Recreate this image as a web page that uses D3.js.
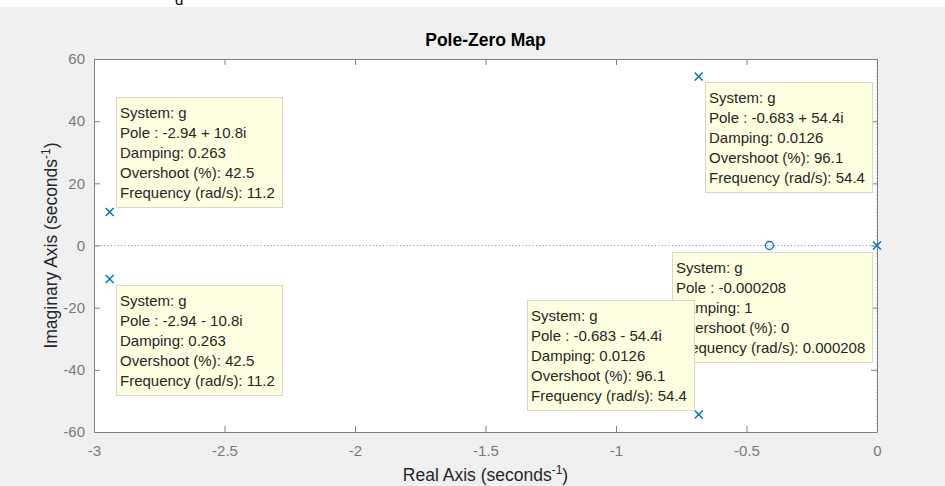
<!DOCTYPE html>
<html lang="en">
<head>
<meta charset="UTF-8">
<title>Pole-Zero Map</title>
<script src="https://d3js.org/d3.v7.min.js"></script>
<style>
    body { margin: 0; background: #f0f0f0; }
    svg { display: block; font-family: "Liberation Sans", Arial, sans-serif; }
    .axis path, .axis line { stroke: #808080; }
    .axis text { fill: #7a7a7a; font-size: 15px; font-family: "Liberation Sans", Arial, sans-serif; }
    .tip rect { fill: #ffffe1; stroke: #d6d6cc; }
    .tip text { fill: #262626; font-size: 15px; }
</style>
</head>
<body>
<script>
// poles and zeros of g
var poleRe = [-2.94, -2.94, -0.683, -0.683, -0.000208];
var poleIm = [10.8, -10.8, 54.4, -54.4, 0];
var zeroRe = [-0.412];
var zeroIm = [0];

// data tip contents for each pole
var tipPole = ["-2.94 + 10.8i", "-2.94 - 10.8i", "-0.683 + 54.4i", "-0.683 - 54.4i", "-0.000208"];
var tipDamping = ["0.263", "0.263", "0.0126", "0.0126", "1"];
var tipOvershoot = ["42.5", "42.5", "96.1", "96.1", "0"];
var tipFreq = ["11.2", "11.2", "54.4", "54.4", "0.000208"];
// which side of the marker each tip sits on
var tipSide = ["ne", "se", "se", "nw", "sw"];
var tipOrder = [0, 1, 2, 4, 3];

var xTicks = [-3, -2.5, -2, -1.5, -1, -0.5, 0];
var yTicks = [-60, -40, -20, 0, 20, 40, 60];

var width = 945, height = 486;
var pLeft = 94, pRight = 877, pTop = 59, pBottom = 432;
var blue = "#0072bd";
var fmt = function(d) { return String(d); };

var svg = d3.select("body").append("svg")
    .attr("width", width)
    .attr("height", height);

svg.append("rect").attr("width", width).attr("height", height).attr("fill", "#f0f0f0");
// strip of the page above the figure
svg.append("rect").attr("width", width).attr("height", 7).attr("fill", "#fff");
svg.append("text").attr("x", 175).attr("y", 5).attr("font-size", 15).attr("fill", "#000").text("d");

var x = d3.scaleLinear().domain([-3, 0]).range([pLeft, pRight]);
var y = d3.scaleLinear().domain([-60, 60]).range([pBottom, pTop]);

svg.append("rect")
    .attr("x", pLeft).attr("y", pTop)
    .attr("width", pRight - pLeft).attr("height", pBottom - pTop)
    .attr("fill", "#fff");

// zero lines
svg.append("line")
    .attr("x1", pLeft).attr("x2", pRight)
    .attr("y1", y(0)).attr("y2", y(0))
    .attr("stroke", "#8c8c8c").attr("stroke-dasharray", "1,2.4");
svg.append("line")
    .attr("x1", x(0)).attr("x2", x(0))
    .attr("y1", pTop).attr("y2", pBottom)
    .attr("stroke", "#8c8c8c").attr("stroke-dasharray", "1,2.4");

svg.append("g").attr("class", "axis")
    .attr("transform", "translate(0," + pBottom + ")")
    .call(d3.axisBottom(x).tickValues(xTicks).tickSize(-6).tickSizeOuter(0).tickPadding(13).tickFormat(fmt));
svg.append("g").attr("class", "axis")
    .attr("transform", "translate(0," + pTop + ")")
    .call(d3.axisTop(x).tickValues(xTicks).tickSize(-6).tickSizeOuter(0).tickFormat(""));
svg.append("g").attr("class", "axis")
    .attr("transform", "translate(" + pLeft + ",0)")
    .call(d3.axisLeft(y).tickValues(yTicks).tickSize(-6).tickSizeOuter(0).tickPadding(9).tickFormat(fmt));
svg.append("g").attr("class", "axis")
    .attr("transform", "translate(" + pRight + ",0)")
    .call(d3.axisRight(y).tickValues(yTicks).tickSize(-6).tickSizeOuter(0).tickFormat(""));
svg.selectAll(".axis text").style("font-size", "15px").style("font-family", "'Liberation Sans', Arial, sans-serif");

// title and axis labels
svg.append("text")
    .attr("x", (pLeft + pRight) / 2).attr("y", 46)
    .attr("text-anchor", "middle")
    .attr("font-size", 17.5).attr("font-weight", "bold").attr("fill", "#000")
    .text("Pole-Zero Map");

var xl = svg.append("text")
    .attr("x", (pLeft + pRight) / 2).attr("y", 481)
    .attr("text-anchor", "middle")
    .attr("font-size", 17.5).attr("fill", "#262626");
xl.append("tspan").text("Real Axis (seconds");
xl.append("tspan").attr("font-size", 12).attr("dy", -7).text("-1");
xl.append("tspan").attr("dy", 7).text(")");

var yl = svg.append("text")
    .attr("transform", "translate(57," + (pTop + pBottom) / 2 + ") rotate(-90)")
    .attr("text-anchor", "middle")
    .attr("font-size", 17.5).attr("fill", "#262626");
yl.append("tspan").text("Imaginary Axis (seconds");
yl.append("tspan").attr("font-size", 12).attr("dy", -7).text("-1");
yl.append("tspan").attr("dy", 7).text(")");

// markers
var s = 4;
svg.append("g").selectAll("path.pole")
    .data(poleRe.map(function(d, i) { return [d, poleIm[i]]; }))
    .enter().append("path")
    .attr("d", function(d) {
        var px = x(d[0]), py = y(d[1]);
        return "M" + (px - s) + "," + (py - s) + "L" + (px + s) + "," + (py + s) +
               "M" + (px - s) + "," + (py + s) + "L" + (px + s) + "," + (py - s);
    })
    .attr("stroke", blue).attr("stroke-width", 1.5).attr("fill", "none");

svg.append("g").selectAll("circle")
    .data(zeroRe.map(function(d, i) { return [d, zeroIm[i]]; }))
    .enter().append("circle")
    .attr("cx", function(d) { return x(d[0]); })
    .attr("cy", function(d) { return y(d[1]); })
    .attr("r", 4)
    .attr("stroke", blue).attr("stroke-width", 1.3).attr("fill", "none");

// data tips
var lineH = 20, boxH = 110;
tipOrder.forEach(function(i) {
    var lines = [
        "System: g",
        "Pole : " + tipPole[i],
        "Damping: " + tipDamping[i],
        "Overshoot (%): " + tipOvershoot[i],
        "Frequency (rad/s): " + tipFreq[i]
    ];
    var g = svg.append("g").attr("class", "tip");
    var rect = g.append("rect");
    var txt = g.selectAll("text").data(lines).enter().append("text")
        .attr("x", 4)
        .attr("y", function(d, k) { return 21 + k * lineH; })
        .text(function(d) { return d; });
    var w = 0;
    txt.each(function() { w = Math.max(w, this.getComputedTextLength()); });
    var boxW = Math.round(w + 11);
    rect.attr("x", 0.5).attr("y", 0.5).attr("width", boxW).attr("height", boxH);
    var px = x(poleRe[i]), py = y(poleIm[i]);
    var side = tipSide[i];
    var bx = side.indexOf("e") >= 0 ? px + 6 : px - 5 - boxW;
    var by = side.indexOf("n") >= 0 ? py - 5 - boxH : py + 6;
    g.attr("transform", "translate(" + Math.round(bx) + "," + Math.round(by) + ")");
});
</script>
</body>
</html>
